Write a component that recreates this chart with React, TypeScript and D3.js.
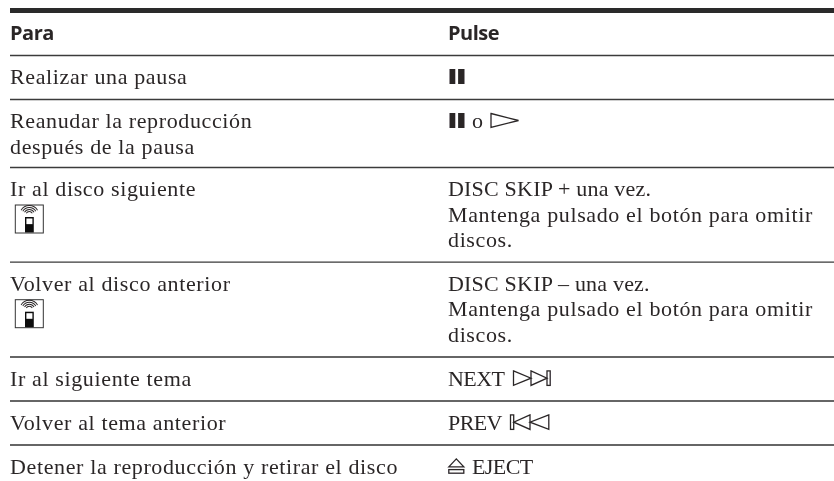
import React from "react";
import * as d3 from "d3";

const headers = ["Para", "Pulse"];
const paraLabels = [
  ["Realizar una pausa"],
  ["Reanudar la reproducción", "después de la pausa"],
  ["Ir al disco siguiente"],
  ["Volver al disco anterior"],
  ["Ir al siguiente tema"],
  ["Volver al tema anterior"],
  ["Detener la reproducción y retirar el disco"],
];
const pulseLabels = [
  [""],
  ["o"],
  ["DISC SKIP + una vez.", "Mantenga pulsado el botón para omitir", "discos."],
  ["DISC SKIP – una vez.", "Mantenga pulsado el botón para omitir", "discos."],
  ["NEXT"],
  ["PREV"],
  ["EJECT"],
];
const remoteRows = [2, 3];

const width = 834;
const height = 481;
const ink = "#2b2728";
const serif = "'Liberation Serif', serif";

// row height depends only on how many text lines it holds
const rowHeight = d3.scaleOrdinal<number, number>().domain([1, 2, 3]).range([44, 68, 94.7]);
const lineCounts = paraLabels.map((p, i) => Math.max(p.length, pulseLabels[i].length));
const rowTops = Array.from(d3.cumsum([55.5, ...lineCounts.map(n => rowHeight(n))]));
const x = d3.scaleOrdinal<number, number>().domain([0, 1]).range([10, 448]);
const lineY = d3.scaleLinear().domain([0, 1]).range([28.7, 54.2]);

// Liberation caps run wider than the original face, so tighten those lines
const spacing = (l: string) => (/^[A-Z]+$/.test(l) ? -0.6 : /[A-Z]{2}/.test(l) ? 0.2 : 0.63);

const triangle = (x0: number, x1: number, top: number, bottom: number) => {
  const p = d3.path();
  p.moveTo(x0, top);
  p.lineTo(x1, (top + bottom) / 2);
  p.lineTo(x0, bottom);
  p.closePath();
  return p.toString();
};

function Pause({ left, top }: { left: number; top: number }) {
  return (
    <g fill={ink}>
      <rect x={left} y={top} width={5.8} height={15} />
      <rect x={left + 8.6} y={top} width={6.4} height={15} />
    </g>
  );
}

function Remote({ left, top }: { left: number; top: number }) {
  const arc = d3.arc();
  return (
    <g transform={`translate(${left},${top})`}>
      <rect x={0.5} y={0.5} width={28} height={28} fill="#fff" stroke="#333" strokeWidth={1} />
      <g transform="translate(14.5,10.5)" fill={ink}>
        {[3.5, 5.5, 7.5, 9.5].map(r => (
          <path
            key={r}
            d={arc({ innerRadius: r - 0.45, outerRadius: r + 0.45, startAngle: -1.05, endAngle: 1.05 }) as string}
          />
        ))}
      </g>
      <rect x={10.2} y={12.5} width={8.8} height={15.5} fill="#111" />
      <rect x={11.6} y={14} width={6} height={5.6} fill="#fff" />
    </g>
  );
}

export default function App() {
  return (
    <svg
      width={width}
      height={height}
      viewBox={`0 0 ${width} ${height}`}
      style={{ position: "absolute", left: 0, top: 0, background: "#fff" }}
    >
      <defs>
        <filter id="soft" x="0" y="0" width="100%" height="100%">
          <feGaussianBlur stdDeviation={0.3} />
        </filter>
      </defs>
      <g filter="url(#soft)">
        <rect x={10} y={8} width={width - 10} height={5} fill="#2a2a2a" />
        {headers.map((h, i) => (
          <text
            key={h}
            x={x(i)}
            y={40}
            fontFamily="'Open Sans', sans-serif"
            fontWeight={700}
            fontSize={20}
            letterSpacing={-0.5}
            fill={ink}
          >
            {h}
          </text>
        ))}

        {rowTops.slice(0, 7).map((t, i) => (
          <line
            key={i}
            x1={10}
            x2={width}
            y1={t}
            y2={t}
            stroke={i < 4 ? "#3a3a3a" : "#666"}
            strokeWidth={i < 4 ? 1.3 : 2}
          />
        ))}

        {paraLabels.map((lines, r) =>
          lines.map((l, j) => (
            <text
              key={l}
              x={x(0)}
              y={rowTops[r] + lineY(j)}
              fontFamily={serif}
              fontSize={22}
              letterSpacing={spacing(l)}
              fill={ink}
            >
              {l}
            </text>
          ))
        )}

        {pulseLabels.map((lines, r) =>
          lines.map((l, j) => (
            <text
              key={r + "-" + j}
              x={l === "o" || l === "EJECT" ? 472 : x(1)}
              y={rowTops[r] + lineY(j)}
              fontFamily={serif}
              fontSize={22}
              letterSpacing={spacing(l)}
              fill={ink}
            >
              {l}
            </text>
          ))
        )}

        {remoteRows.map(r => (
          <Remote key={r} left={14.8} top={rowTops[r] + 37} />
        ))}

        <Pause left={449.5} top={rowTops[0] + 13.5} />
        <Pause left={449.5} top={rowTops[1] + 13.5} />
        <path
          d={triangle(491, 518.5, rowTops[1] + 14, rowTops[1] + 28)}
          fill="none"
          stroke={ink}
          strokeWidth={1.3}
        />

        {/* NEXT */}
        <g fill="none" stroke={ink} strokeWidth={1.3}>
          <path d={triangle(513.5, 531, rowTops[4] + 14, rowTops[4] + 28.5)} />
          <path d={triangle(531, 547, rowTops[4] + 14, rowTops[4] + 28.5)} />
          <rect x={547} y={rowTops[4] + 14} width={3.2} height={14.5} />
        </g>

        {/* PREV */}
        <g fill="none" stroke={ink} strokeWidth={1.3}>
          <rect x={510.5} y={rowTops[5] + 14} width={3.2} height={14.5} />
          <path d={triangle(530, 513.7, rowTops[5] + 14, rowTops[5] + 28.5)} />
          <path d={triangle(548.8, 530, rowTops[5] + 14, rowTops[5] + 28.5)} />
        </g>

        {/* EJECT */}
        <g fill="none" stroke={ink} strokeWidth={1.3}>
          <path d={`M448.8,${rowTops[6] + 22}L456.3,${rowTops[6] + 14}L463.8,${rowTops[6] + 22}Z`} />
          <rect x={448.8} y={rowTops[6] + 24.7} width={15} height={3.6} />
        </g>
      </g>
    </svg>
  );
}
